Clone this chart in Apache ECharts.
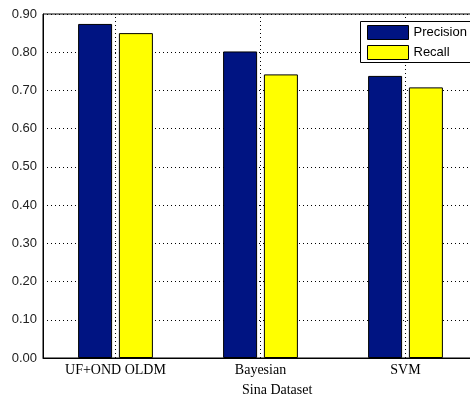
<!DOCTYPE html>
<html>
<head>
<meta charset="utf-8">
<script src="https://cdn.jsdelivr.net/npm/echarts@6/dist/echarts.min.js"></script>
<style>
  html, body { margin: 0; padding: 0; background: #fff; overflow: hidden; }
  #chart { width: 470px; height: 400px; }
</style>
</head>
<body>
<div id="chart"></div>
<script>
// Sina dataset: precision / recall per method
const categories = ['UF+OND OLDM', 'Bayesian', 'SVM'];
const precision = [0.874, 0.802, 0.738];
const recall = [0.850, 0.742, 0.708];
const yMin = 0;
const yMax = 0.9;
const yStep = 0.1;

const chart = echarts.init(document.getElementById('chart'));

const barBorder = { borderColor: '#000', borderWidth: 1 };
const dotted = { color: '#000', width: 1, type: [1, 3] };

chart.setOption({
  animation: false,
  backgroundColor: '#fff',
  grid: {
    left: 43, top: 14, height: 344, width: 435,
    outerBoundsMode: 'none',
    containLabel: false,
    show: true, borderColor: '#000', borderWidth: 1
  },
  graphic: [
    {
      // legend frame (runs past the right edge of the canvas)
      type: 'rect',
      z: 90,
      shape: { x: 360.5, y: 21.5, width: 140, height: 41 },
      style: { fill: '#fff', stroke: '#000', lineWidth: 1 }
    },
    {
      type: 'text',
      left: 242, top: 383,
      style: {
        text: 'Sina Dataset',
        fill: '#000',
        font: '14px "Liberation Serif", "Times New Roman", serif',
        textAlign: 'center'
      }
    }
  ],
  legend: {
    orient: 'vertical',
    left: 360, top: 22,
    z: 100,
    padding: [3, 5, 3, 7],
    itemGap: 5,
    itemWidth: 41, itemHeight: 14,
    borderWidth: 0,
    textStyle: { fontFamily: '"Liberation Sans", Arial, sans-serif', fontSize: 13, color: '#000' },
    data: [
      { name: 'Precision', icon: 'rect', itemStyle: { borderColor: '#000', borderWidth: 1 } },
      { name: 'Recall', icon: 'rect', itemStyle: { borderColor: '#000', borderWidth: 1 } }
    ]
  },
  xAxis: {
    type: 'category',
    data: categories,
    axisLine: { lineStyle: { color: '#000', width: 1 } },
    axisTick: { show: false },
    axisLabel: {
      color: '#000', margin: 5,
      fontFamily: '"Liberation Serif", "Times New Roman", serif', fontSize: 14
    },
    splitLine: { show: false }
  },
  yAxis: {
    type: 'value',
    min: yMin, max: yMax, interval: yStep,
    axisLine: { show: true, lineStyle: { color: '#000', width: 1 } },
    axisTick: { show: false },
    axisLabel: {
      color: '#222', margin: 6,
      fontFamily: '"Liberation Sans", Arial, sans-serif', fontSize: 13,
      formatter: v => v.toFixed(2)
    },
    splitLine: { show: true, lineStyle: dotted }
  },
  series: [
    {
      // vertical dotted guides through each category centre
      name: 'guides',
      type: 'line',
      data: [],
      silent: true,
      markLine: {
        silent: true,
        symbol: 'none',
        label: { show: false },
        lineStyle: dotted,
        data: categories.map(c => ({ xAxis: c }))
      }
    },
    {
      name: 'Precision',
      type: 'bar',
      data: precision,
      barWidth: 34,
      barGap: '20%',
      itemStyle: Object.assign({ color: '#001482' }, barBorder)
    },
    {
      name: 'Recall',
      type: 'bar',
      data: recall,
      barWidth: 34,
      barGap: '20%',
      itemStyle: Object.assign({ color: '#ffff00' }, barBorder)
    }
  ]
});
</script>
</body>
</html>
